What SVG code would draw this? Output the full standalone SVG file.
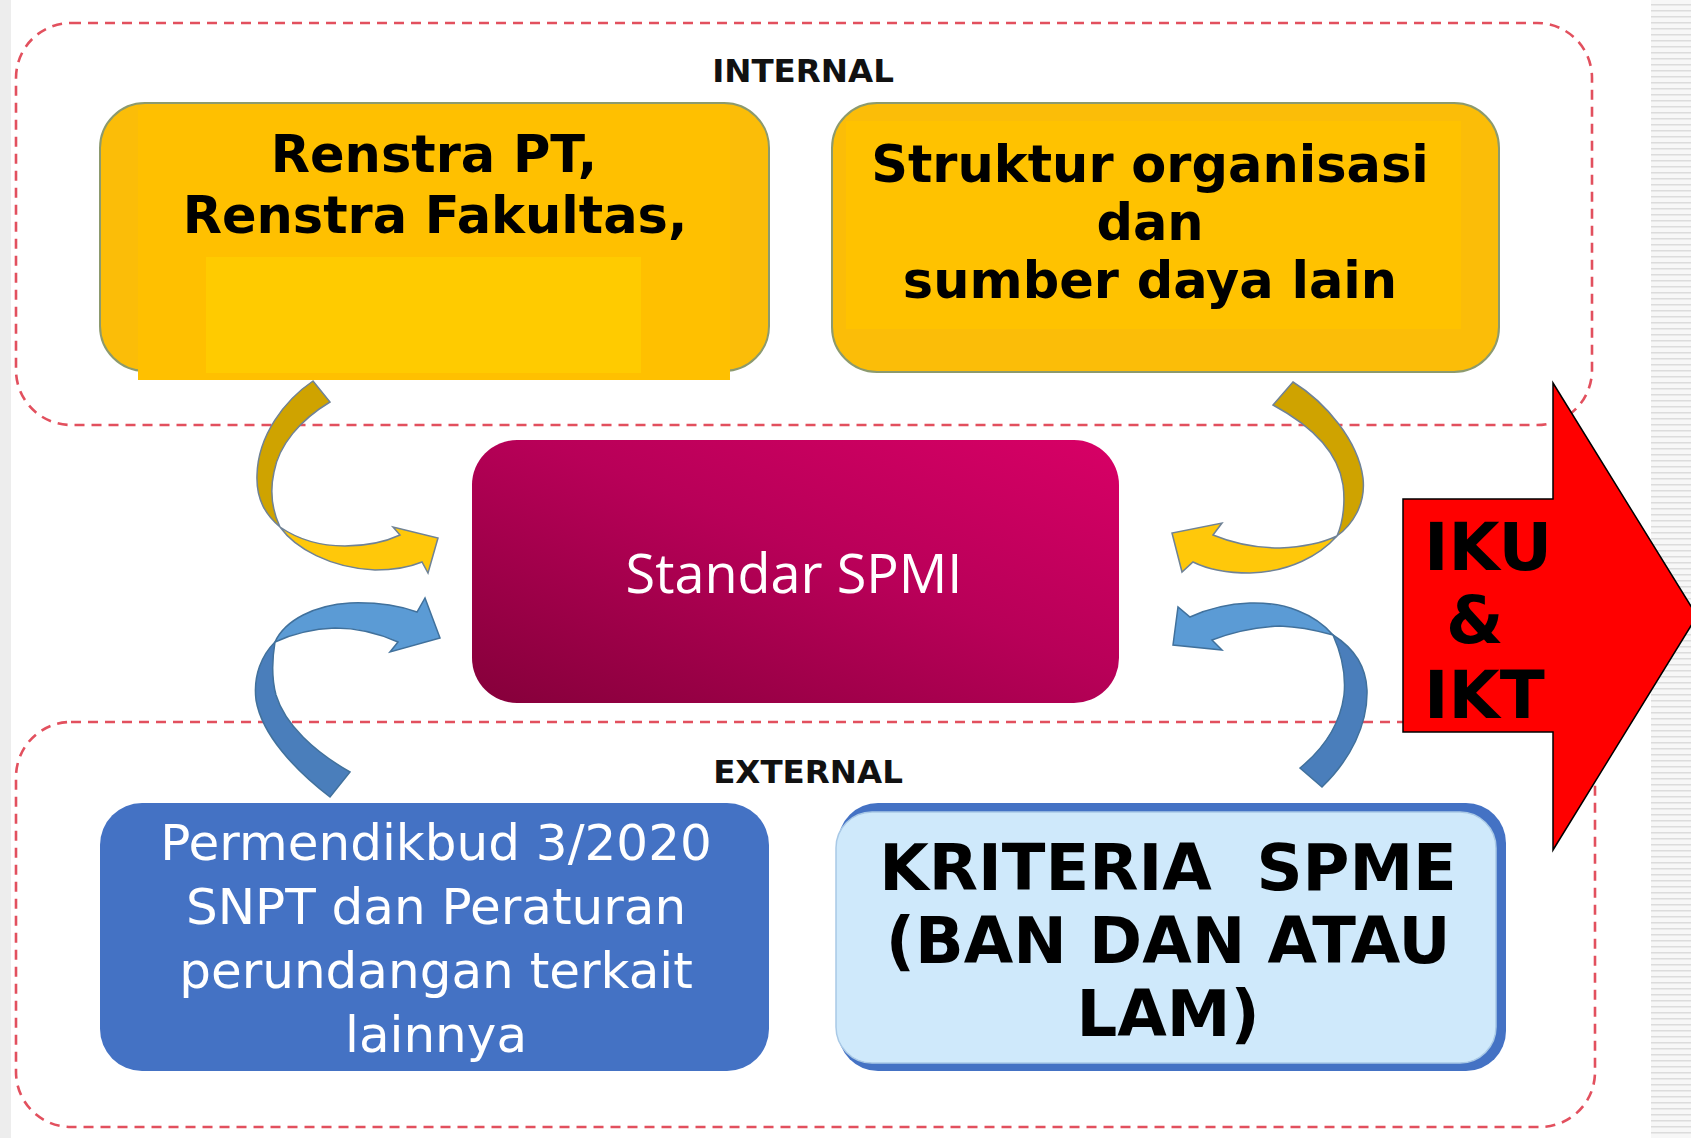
<svg xmlns="http://www.w3.org/2000/svg" width="1691" height="1138" viewBox="0 0 1691 1138">
<defs>
<style>
.dash{fill:none;stroke:#E2505E;stroke-width:2.6;stroke-dasharray:10 7}
.lbl{font-family:"DejaVu Sans",sans-serif;font-weight:bold;font-size:32.5px;fill:#111;text-anchor:middle}
.ybox{fill:#FBBD08;stroke:#8C9A6E;stroke-width:2}
.ytxt{font-family:"DejaVu Sans",sans-serif;font-weight:bold;font-size:51px;fill:#000;text-anchor:middle}
.stxt{font-family:"Open Sans",sans-serif;font-size:54px;fill:#fff;text-anchor:middle}
.wtxt{font-family:"DejaVu Sans",sans-serif;font-size:50px;fill:#fff;text-anchor:middle}
.ktxt{font-family:"DejaVu Sans",sans-serif;font-weight:bold;font-size:64px;fill:#000;text-anchor:middle}
.itxt{font-family:"DejaVu Sans",sans-serif;font-weight:bold;font-size:66px;fill:#000}
.ydark{fill:#CFA300;stroke:#6F8296;stroke-width:1.5}
.ylight{fill:#FFC80A;stroke:#6F8296;stroke-width:1.5}
.bdark{fill:#4A7EBB;stroke:#41719C;stroke-width:1.5}
.blight{fill:#5B9BD5;stroke:#41719C;stroke-width:1.5}
</style>
<linearGradient id="gSpmi" x1="0" y1="1" x2="1" y2="0">
<stop offset="0" stop-color="#85003A"/>
<stop offset="0.55" stop-color="#B80058"/>
<stop offset="1" stop-color="#D80066"/>
</linearGradient>
<pattern id="stripes" width="40" height="6" patternUnits="userSpaceOnUse">
<rect width="40" height="6" fill="#F7F7F7"/>
<rect y="4" width="40" height="1.5" fill="#DCDCDC"/>
</pattern>
</defs>
<rect width="1691" height="1138" fill="#fff"/>
<rect x="0" y="0" width="11" height="1138" fill="#EDEDED"/>
<rect x="1651" y="0" width="40" height="1138" fill="url(#stripes)"/>

<g id="groups">
<rect class="dash" x="16" y="23" width="1576" height="402" rx="55"/>
<text class="lbl" x="803" y="82">INTERNAL</text>
<rect class="dash" x="16" y="722" width="1579" height="405" rx="55"/>
<text class="lbl" x="808" y="783">EXTERNAL</text>
</g>

<g id="node-renstra">
<rect class="ybox" x="100" y="103" width="669" height="268" rx="45"/>
<rect x="138" y="110" width="592" height="270" fill="#FFC000"/>
<rect x="206" y="257" width="435" height="116" fill="#FFCB00"/>
<text class="ytxt" x="434" y="172">Renstra PT,</text>
<text class="ytxt" x="435" y="233">Renstra Fakultas,</text>
</g>

<g id="node-struktur">
<rect class="ybox" x="832" y="103" width="667" height="269" rx="45" fill="#FDBF00"/>
<rect x="846" y="121" width="615" height="208" fill="#FFC200"/>
<text class="ytxt" x="1150" y="182">Struktur organisasi</text>
<text class="ytxt" x="1150" y="240">dan</text>
<text class="ytxt" x="1150" y="298">sumber daya lain</text>
</g>

<g id="node-spmi">
<rect x="472" y="440" width="647" height="263" rx="45" fill="url(#gSpmi)"/>
<text class="stxt" x="794" y="593">Standar SPMI</text>
</g>

<g id="node-permendikbud">
<rect x="100" y="803" width="669" height="268" rx="42" fill="#4472C4"/>
<text class="wtxt" x="436" y="860">Permendikbud 3/2020</text>
<text class="wtxt" x="436" y="924">SNPT dan Peraturan</text>
<text class="wtxt" x="436" y="988">perundangan terkait</text>
<text class="wtxt" x="436" y="1052">lainnya</text>
</g>

<g id="node-kriteria">
<rect x="838" y="803" width="668" height="268" rx="40" fill="#4472C4"/>
<rect x="836" y="812" width="660" height="251" rx="36" fill="#CFE9FB" stroke="#A9C9E6" stroke-width="1.5"/>
<text class="ktxt" x="1168" y="890" xml:space="preserve">KRITERIA  SPME</text>
<text class="ktxt" x="1168" y="963">(BAN DAN ATAU</text>
<text class="ktxt" x="1168" y="1036">LAM)</text>
</g>

<g id="connectors">
<path class="ydark" d="M313,381 C285,400 258,435 257,475 C256,500 266,515 280,527 C272,510 270,490 274,472 C279,445 300,420 330,402 Z"/>
<path class="ylight" d="M280,527 C295,548 330,568 375,570 C395,570 410,567 422,562 L428,573 L438,538 L393,527 L400,535 C385,542 365,546 345,546 C318,546 296,538 280,527 Z"/>
<path class="ydark" d="M1293,382 C1325,402 1358,440 1363,478 C1366,505 1352,525 1337,536 C1344,520 1345,500 1343,485 C1338,450 1310,425 1273,405 Z"/>
<path class="ylight" d="M1337,536 C1320,555 1290,572 1250,573 C1225,573 1205,568 1193,562 L1182,572 L1172,533 L1222,523 L1213,535 C1230,542 1255,548 1280,548 C1305,547 1322,543 1337,536 Z"/>
<path class="bdark" d="M330,797 C295,770 262,735 256,700 C253,675 262,655 275,642 C272,660 272,680 276,695 C285,725 315,752 350,772 Z"/>
<path class="blight" d="M275,642 C285,620 315,605 350,603 C380,602 400,606 417,612 L425,598 L440,638 L390,652 L398,642 C380,634 360,628 335,628 C310,629 290,635 275,642 Z"/>
<path class="bdark" d="M1322,787 C1350,760 1368,725 1367,690 C1366,665 1352,647 1333,635 C1342,655 1346,675 1344,695 C1340,725 1322,750 1300,768 Z"/>
<path class="blight" d="M1333,635 C1315,614 1285,602 1250,603 C1225,604 1205,610 1190,617 L1178,607 L1173,645 L1222,650 L1212,640 C1230,633 1255,627 1280,626 C1305,627 1322,632 1333,635 Z"/>
</g>

<g id="node-iku">
<path d="M1403,499 L1553,499 L1553,383 L1697,616 L1553,850 L1553,732 L1403,732 Z" fill="#FF0000" stroke="#000" stroke-width="1.5"/>
<text class="itxt" x="1424" y="570">IKU</text>
<text class="itxt" x="1446" y="643">&amp;</text>
<text class="itxt" x="1424" y="718">IKT</text>
</g>
</svg>
